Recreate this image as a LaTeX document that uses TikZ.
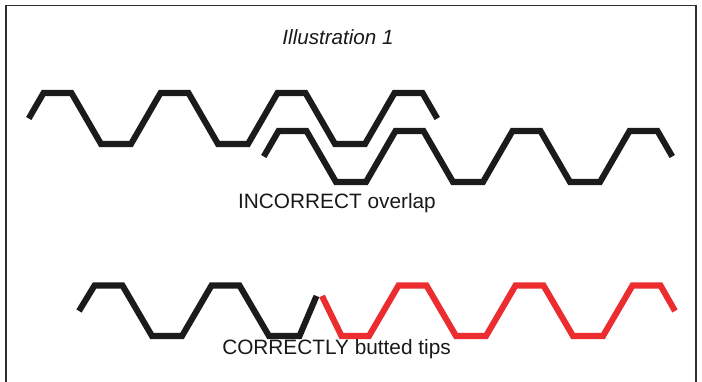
\documentclass[tikz,border=0pt]{standalone}
\usepackage{fontspec}
\setmainfont{Liberation Sans}
\definecolor{wblack}{HTML}{1B1B1B}
\definecolor{wred}{HTML}{EC2D2F}
\definecolor{framec}{HTML}{2E2E2E}
\begin{document}
\begin{tikzpicture}[x=1pt,y=-1pt,
  wave/.style={line width=6.1pt,line cap=butt,line join=miter,draw=wblack},
  redwave/.style={wave,draw=wred},
  lbl/.style={anchor=base,inner sep=0pt,font=\fontsize{20.8}{24}\selectfont,text=black!90}]
\useasboundingbox (0,0) rectangle (702,382);
\fill[white] (0,0) rectangle (702,382);
% frame (open at the bottom)
\draw[framec,line width=1.8pt] (6.2,382) -- (6.2,5.5) -- (695.6,5.5) -- (695.6,382);
% title
\node[lbl,font=\fontsize{20.6}{24}\selectfont\itshape] (title) at (338,45) {Illustration 1};
% incorrect overlap
\draw[wave] (28.75,118.5) -- (43.5,93) -- (71.5,93) -- (101,144) -- (131,144) -- (160.5,93) -- (188.5,93) -- (218,144) -- (248,144) -- (277.5,93) -- (305.5,93) -- (335,144) -- (365,144) -- (394.5,93) -- (422.5,93) -- (437.25,118.5);
\draw[wave] (263.75,156.5) -- (278.5,131) -- (306.5,131) -- (336,182) -- (366,182) -- (395.5,131) -- (423.5,131) -- (453,182) -- (483,182) -- (512.5,131) -- (540.5,131) -- (570,182) -- (600,182) -- (629.5,131) -- (657.5,131) -- (672.25,156.5);
\node[lbl] (incorrect) at (337,209) {INCORRECT overlap};
% correctly butted
\draw[wave] (79,311) -- (94.5,285.5) -- (122.5,285.5) -- (152,336) -- (182,336) -- (211.5,285.5) -- (239.5,285.5) -- (269,336) -- (299.5,336) -- (316.5,296);
\draw[redwave] (322,296) -- (341.5,336) -- (369,336) -- (398.5,285.5) -- (426.5,285.5) -- (456,336) -- (486,336) -- (515.5,285.5) -- (543.5,285.5) -- (573,336) -- (603,336) -- (632.5,285.5) -- (660.5,285.5) -- (675,311);
\node[lbl] (correct) at (336.5,354) {CORRECTLY butted tips};
\end{tikzpicture}
\end{document}
